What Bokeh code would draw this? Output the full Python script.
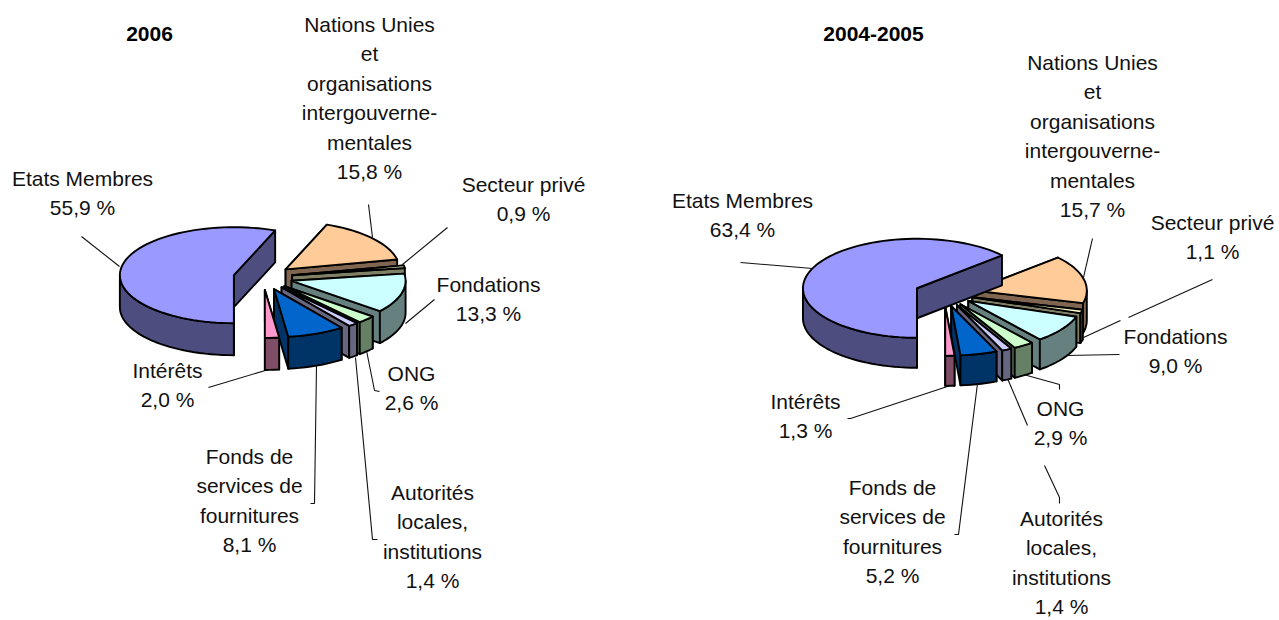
import math
from bokeh.plotting import figure
from bokeh.models import Range1d
from bokeh.core.properties import value
from bokeh.embed import file_html
from bokeh.resources import INLINE

# ---- data ----
categories = ["Etats Membres", "Nations Unies", "Secteur privé", "Fondations",
              "ONG", "Autorités", "Fonds de services", "Intérêts"]
values_2006 = [55.9, 15.8, 0.9, 13.3, 2.6, 1.4, 8.1, 2.0]
values_2004_2005 = [63.4, 15.7, 1.1, 9.0, 2.9, 1.4, 5.2, 1.3]
top_colors = ["#9999FF", "#FFCC99", "#FFFFCC", "#CCFFFF", "#CCFFCC", "#CCCCFF", "#0066CC", "#FF99CC"]
side_colors = ["#4D4D80", "#806650", "#808066", "#668080", "#668066", "#666680", "#003366", "#804D66"]
label_lines = [["Etats Membres"],
               ["Nations Unies", "et", "organisations", "intergouverne-", "mentales"],
               ["Secteur privé"], ["Fondations"], ["ONG"],
               ["Autorités", "locales,", "institutions"],
               ["Fonds de", "services de", "fournitures"],
               ["Intérêts"]]
titles = ["2006", "2004-2005"]

# ---- layout (picture pixels) ----
FONT = value("Liberation Sans")
SIZE = value("21px")
W, H = 1279, 620
geom_2006 = dict(cx=262.5, cy=277.0, rx=114.0, ry=48.0, depth=32.0, explode=0.26)
geom_2005 = dict(cx=943.5, cy=293.0, rx=114.0, ry=49.5, depth=30.0, explode=0.26)
title_pos = [(149, 33), (873, 33)]
LINE = 29.4
label_pos_2006 = [(82, 178), (369, 24), (523, 184), (488, 284), (411, 373), (432, 492), (249, 456), (167, 370)]
label_pos_2005 = [(742, 200), (1092, 62), (1212, 222), (1175, 336), (1060, 408), (1061, 518), (892, 487), (805, 401)]
leaders = [
    [(81, 236), (119, 266)], [(368, 204), (372, 237)], [(447, 227), (402, 264)],
    [(434, 299), (405, 323)], [(379, 391), (374, 390), (366, 350)],
    [(377, 539), (372, 539), (355, 357)], [(310, 503), (314, 503), (316, 365)],
    [(208, 387), (268, 369)],
    [(740, 262), (812, 268)], [(1092, 238), (1083, 277)],
    [(1212, 279), (1128, 317)], [(1120, 320), (1083, 337)], [(1119, 354), (1065, 355)],
    [(1059, 389), (1059, 384), (1023, 374)], [(1027, 425), (1007, 378)],
    [(1059, 503), (1059, 497), (1044, 465)], [(954, 534), (958, 534), (977, 383)],
    [(847, 418), (850, 418), (950, 385)],
]


def pt(g, ax, ay, deg):
    r = math.radians(deg)
    return ax + g["rx"] * math.sin(r), ay - g["ry"] * math.cos(r)


def arc(g, ax, ay, a0, a1):
    n = max(2, int(abs(a1 - a0) / 3) + 2)
    return [pt(g, ax, ay, a0 + (a1 - a0) * i / (n - 1)) for i in range(n)]


def down(g, pts):
    return [(x, y + g["depth"]) for x, y in pts]


def slices(vals, g):
    """Polygons of one exploded pie, back to front, clockwise from 6 o'clock."""
    spans, a = [], 180.0
    for v in vals:
        a0 = a - 360.0 if a >= 360.0 else a
        spans.append((a0, a0 + v * 3.6))
        a += v * 3.6
    polys = []
    for i in [1, 2, 3, 4, 5, 6, 7, 0]:
        a0, a1 = spans[i]
        mid = math.radians((a0 + a1) / 2)
        ax = g["cx"] + g["explode"] * g["rx"] * math.sin(mid)
        ay = g["cy"] - g["explode"] * g["ry"] * math.cos(mid)
        p0, p1 = pt(g, ax, ay, a0), pt(g, ax, ay, a1)
        apex = (ax, ay)
        polys.append(([apex, p0] + down(g, [p0, apex]), side_colors[i]))
        polys.append(([apex, p1] + down(g, [p1, apex]), side_colors[i]))
        lo, hi = max(a0, 90.0), min(a1, 270.0)
        if hi > lo:
            rim = arc(g, ax, ay, lo, hi)
            polys.append((rim + down(g, rim)[::-1], side_colors[i]))
        polys.append(([apex] + arc(g, ax, ay, a0, a1), top_colors[i]))
    return polys


p = figure(width=W, height=H, x_range=Range1d(0, W), y_range=Range1d(H, 0),
           output_backend="svg", toolbar_location=None, min_border=0,
           x_axis_type=None, y_axis_type=None, outline_line_color=None)
p.grid.visible = False

p.multi_line([[q[0] for q in l] for l in leaders], [[q[1] for q in l] for l in leaders],
             line_color="#111111", line_width=1.1)

for vals, g in [(values_2006, geom_2006), (values_2004_2005, geom_2005)]:
    for P, c in slices(vals, g):
        p.patch([q[0] for q in P], [q[1] for q in P], fill_color=c, line_color="black",
                line_width=1.9, line_join="round")

tx, ty, tt = [], [], []
for vals, pos in [(values_2006, label_pos_2006), (values_2004_2005, label_pos_2005)]:
    for lines, v, (x, y) in zip(label_lines, vals, pos):
        rows = lines + [f"{v:.1f} %".replace(".", ",")]
        for k, s in enumerate(rows):
            tx.append(x), ty.append(y + k * LINE), tt.append(s)
p.text(tx, ty, text=tt, text_font=FONT, text_font_size=SIZE, text_color="#111111",
       text_align="center", text_baseline="middle")
p.text([q[0] for q in title_pos], [q[1] for q in title_pos], text=titles, text_font=FONT,
       text_font_size=SIZE, text_font_style="bold", text_color="#000000",
       text_align="center", text_baseline="middle")

open("out.html", "w").write(file_html(p, INLINE))
